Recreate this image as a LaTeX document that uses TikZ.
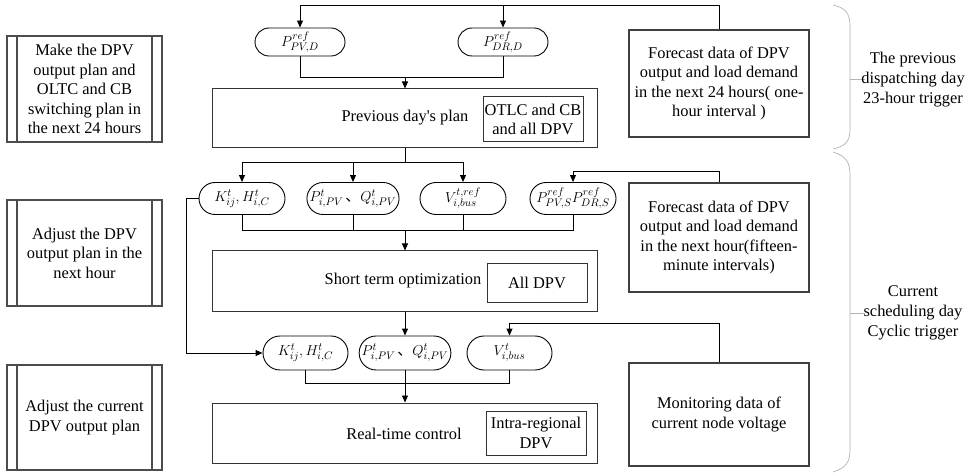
\documentclass[tikz,border=0pt]{standalone}
\usepackage{fontspec}
\setmainfont{Liberation Serif}
\newfontfamily\cjk{Noto Sans CJK SC}
\usetikzlibrary{arrows.meta,shapes.misc}

\tikzset{
  txt/.style={font=\fontsize{16.4}{19.6}\selectfont, align=center, inner sep=0pt},
  mainbox/.style={txt, draw=black!80, line width=1pt, minimum width=385pt, minimum height=60pt},
  innerbox/.style={txt, draw=black!80, line width=1pt, minimum width=100pt},
  databox/.style={txt, draw=black!75, line width=1.1pt, minimum width=180pt},
  sidebox/.style={txt, draw=black!70, line width=1.1pt, minimum width=155pt,
    path picture={
      \draw[black!70, line width=1.1pt]
        ([xshift=10pt]path picture bounding box.north west) --
        ([xshift=10pt]path picture bounding box.south west)
        ([xshift=-10pt]path picture bounding box.north east) --
        ([xshift=-10pt]path picture bounding box.south east);}},
  term/.style={txt, font=\fontsize{15}{18}\selectfont, rounded rectangle, draw=black,
    line width=0.9pt},
  ln/.style={draw=black, line width=0.9pt},
  arr/.style={ln, -{Triangle[length=7pt,width=6pt]}},
  brace/.style={draw=black!30, line width=0.7pt},
  trig/.style={txt, font=\fontsize{16.4}{20}\selectfont},
}

\begin{document}
\begin{tikzpicture}[x=1pt, y=-1pt]
\useasboundingbox (0,0) rectangle (980,473);

% stage descriptions on the left
\node[sidebox, minimum height=106pt] (s1) at (84.5,89)
  {Make the DPV\\output plan and\\OLTC and CB\\switching plan in\\the next 24 hours};
\node[sidebox, minimum height=106pt] (s2) at (84.5,253)
  {Adjust the DPV\\output plan in the\\next hour};
\node[sidebox, minimum height=105pt] (s3) at (84.5,417.5)
  {Adjust the current\\DPV output plan};

% day-ahead stage
\node[term, minimum width=90pt, minimum height=28pt] (tPV) at (300,42) {$P^{ref}_{PV,D}$};
\node[term, minimum width=90pt, minimum height=28pt] (tDR) at (503,42) {$P^{ref}_{DR,D}$};
\node[databox, minimum height=107pt] (f1) at (719,83.5)
  {Forecast data of DPV\\output and load demand\\in the next 24 hours( one-\\hour interval )};
\node[mainbox, minimum height=59pt] (prev) at (405,118.5) {};
\node[txt] (prevtxt) at (405,118) {Previous day\textquotesingle s plan};
\node[innerbox, minimum height=45pt] (previn) at (533,119.5) {OTLC and CB\\and all DPV};

% intra-day stage
\node[term, minimum width=86pt, minimum height=32pt] (aK) at (242,198.5) {$K^{t}_{ij},H^{t}_{i,C}$};
\node[term, minimum width=86pt, minimum height=32pt] (aPQ) at (353,198.5)
  {$P^{t}_{i,PV}$\hspace{2pt}{\cjk 、}$Q^{t}_{i,PV}$};
\node[term, minimum width=86pt, minimum height=32pt] (aV) at (463,198.5) {$V^{t,ref}_{i,bus}$};
\node[term, minimum width=86pt, minimum height=32pt] (aS) at (573,198.5)
  {$P^{ref}_{PV,S}P^{ref}_{DR,S}$};
\node[databox, minimum height=109pt] (f2) at (719,237.5)
  {Forecast data of DPV\\output and load demand\\in the next hour(fifteen-\\minute intervals)};
\node[mainbox] (short) at (405,281) {};
\node[txt] (shorttxt) at (403,281) {Short term optimization};
\node[innerbox, minimum height=39pt] (shortin) at (537,282.5) {All DPV};

% real-time stage
\node[term, minimum width=85pt, minimum height=34pt] (bK) at (305.5,353) {$K^{t}_{ij},H^{t}_{i,C}$};
\node[term, minimum width=85pt, minimum height=34pt] (bPQ) at (405,353)
  {$P^{t}_{i,PV}$\hspace{2pt}{\cjk 、}$Q^{t}_{i,PV}$};
\node[term, minimum width=85pt, minimum height=34pt] (bV) at (509.5,353) {$V^{t}_{i,bus}$};
\node[databox, minimum height=103pt] (mon) at (719,414.5)
  {Monitoring data of\\current node voltage};
\node[mainbox] (real) at (405,433) {};
\node[txt] (realtxt) at (404,434) {Real-time control};
\node[innerbox, minimum height=44pt] (realin) at (536,433) {Intra-regional\\DPV};

% bus levels
\coordinate (y0) at (0,5);
\coordinate (y1) at (0,77);
\coordinate (y2) at (0,162);
\coordinate (y2b) at (0,171);
\coordinate (y3) at (0,230);
\coordinate (y4) at (0,323);
\coordinate (y5) at (0,383);
\coordinate (xl) at (186,0);

% day-ahead connectors
\draw[arr] (f1.north) -- (f1.north |- y0) -- (tPV.north |- y0) -- (tPV.north);
\draw[arr] (tDR.north |- y0) -- (tDR.north);
\draw[ln] (tPV.south) -- (tPV.south |- y1) -- (tDR.south |- y1) -- (tDR.south);
\draw[arr] (prev.north |- y1) -- (prev.north);

% intra-day connectors
\draw[ln] (prev.south) -- (prev.south |- y2);
\draw[ln] (aK.north |- y2) -- (aV.north |- y2);
\draw[arr] (aK.north |- y2) -- (aK.north);
\draw[arr] (aPQ.north |- y2) -- (aPQ.north);
\draw[arr] (aV.north |- y2) -- (aV.north);
\draw[arr] (f2.north) -- (f2.north |- y2b) -- (aS.north |- y2b) -- (aS.north);
\draw[ln] (aK.south) -- (aK.south |- y3) -- (aS.south |- y3) -- (aS.south);
\draw[ln] (aPQ.south) -- (aPQ.south |- y3);
\draw[ln] (aV.south) -- (aV.south |- y3);
\draw[arr] (short.north |- y3) -- (short.north);

% real-time connectors
\draw[arr] (aK.west) -- (aK.west -| xl) -- (xl |- bK.west) -- (bK.west);
\draw[arr] (short.south) -- (bPQ.north);
\draw[arr] (mon.north) -- (mon.north |- y4) -- (bV.north |- y4) -- (bV.north);
\draw[ln] (bK.south) -- (bK.south |- y5) -- (bV.south |- y5) -- (bV.south);
\draw[arr] (bPQ.south) -- (real.north);

% trigger braces
\draw[brace] (833,5) .. controls (846,8) and (850,14) .. (850,26) -- (850,129)
  .. controls (850,141) and (846,146) .. (833,149);
\draw[brace] (850,79) -- (865,79);
\draw[brace] (833,152) .. controls (846,156) and (850,162) .. (850,175) -- (850,450)
  .. controls (850,462) and (846,468) .. (833,472);
\draw[brace] (850,313) -- (865,313);
\node[trig] (trig1) at (913,80) {The previous\\dispatching day\\23-hour trigger};
\node[trig] (trig2) at (913,313) {Current\\scheduling day\\Cyclic trigger};
\end{tikzpicture}
\end{document}
